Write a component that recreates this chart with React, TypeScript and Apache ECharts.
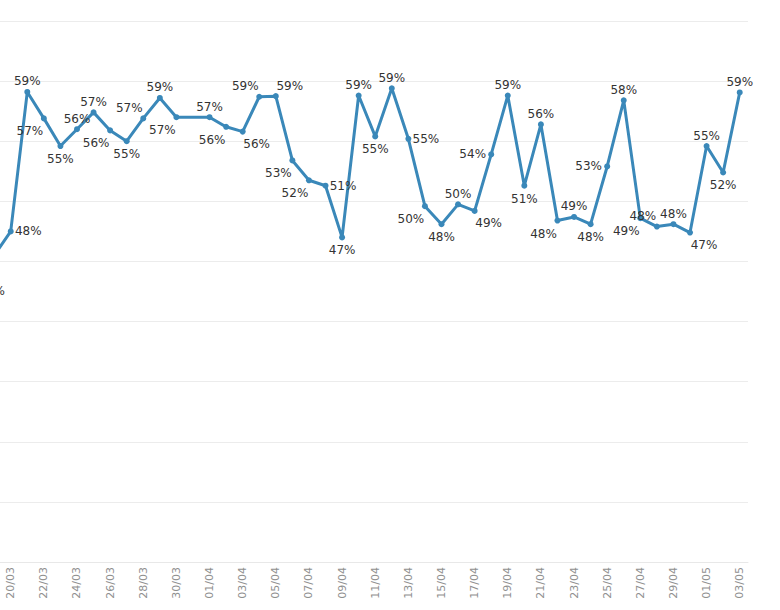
import React, { useEffect, useRef } from 'react';
import * as echarts from 'echarts';

// daily dates, 18/03 .. 03/05 (the chart is cropped on the left)
const dates = [
  '18/03', '19/03', '20/03', '21/03', '22/03', '23/03', '24/03', '25/03', '26/03', '27/03',
  '28/03', '29/03', '30/03', '31/03', '01/04', '02/04', '03/04', '04/04', '05/04', '06/04',
  '07/04', '08/04', '09/04', '10/04', '11/04', '12/04', '13/04', '14/04', '15/04', '16/04',
  '17/04', '18/04', '19/04', '20/04', '21/04', '22/04', '23/04', '24/04', '25/04', '26/04',
  '27/04', '28/04', '29/04', '30/04', '01/05', '02/05', '03/05',
];

// share in %, null = no value that day
const shares: (number | null)[] = [
  43.5, null, 47.5, 59.1, 56.9, 54.6, 56.0, 57.4, 55.9, 55.0,
  56.9, 58.6, 57.0, null, 57.0, 56.2, 55.8, 58.7, 58.75, 53.4,
  51.75, 51.3, 47.0, 58.8, 55.4, 59.4, 55.2, 49.6, 48.1, 49.75,
  49.2, 53.9, 58.8, 51.3, 56.4, 48.4, 48.7, 48.1, 52.9, 58.4,
  48.6, 47.9, 48.1, 47.4, 54.6, 52.4, 59.06,
];

// where each value label sits around its point
const labelSide = [
  'br', '', 'r', 't', 'bl', 'b', 't', 't', 'bl', 'b',
  'tl', 't', 'bl', '', 't', 'bl', 'br', 'tl', 'tr', 'bl',
  'bl', 'r', 'b', 't', 'b', 't', 'r', 'bl', 'b', 't',
  'br', 'l', 't', 'b', 't', 'bl', 't', 'b', 'l', 't',
  'bl', 'tl', 't', 'br', 't', 'b', 't',
];

const sideOffset: Record<string, number[]> = {
  t: [0, -10.5],
  b: [0, 13],
  l: [-18.5, 0],
  r: [17.5, 0],
  tl: [-14, -10.5],
  tr: [14, -10],
  bl: [-14, 13],
  br: [14, 12],
};

const FONT = 'DejaVu Sans';

const App: React.FC = () => {
  const chartRef = useRef<HTMLDivElement | null>(null);

  useEffect(() => {
    if (!chartRef.current) return;
    const chart = echarts.init(chartRef.current, undefined, { renderer: 'svg' });

    const data = shares.map((v, i) => ({
      value: v,
      label: {
        offset: sideOffset[labelSide[i]] || [0, -10.5],
      },
    }));

    chart.setOption({
      animation: false,
      // the container starts 31px left of the page, so the plot is cut off there
      grid: { left: 0.3, right: 32, top: 21, bottom: 48, containLabel: false },
      xAxis: {
        type: 'category',
        data: dates,
        boundaryGap: true,
        axisLine: { lineStyle: { color: '#e8e8e8', width: 1 } },
        axisTick: { show: false },
        axisLabel: {
          rotate: 90,
          interval: 1,
          color: '#909090',
          fontSize: 11,
          fontFamily: FONT,
          margin: 5,
        },
        splitLine: { show: false },
      },
      yAxis: {
        type: 'value',
        min: 20,
        max: 65,
        interval: 5,
        axisLine: { show: false },
        axisTick: { show: false },
        axisLabel: { show: false },
        splitLine: { lineStyle: { color: '#ececec', width: 1 } },
      },
      series: [
        {
          type: 'line',
          data,
          connectNulls: true,
          symbol: 'circle',
          symbolSize: 6,
          itemStyle: { color: '#3a88b9' },
          lineStyle: { color: '#3a88b9', width: 3 },
          label: {
            show: true,
            position: 'inside',
            align: 'center',
            verticalAlign: 'middle',
            color: '#333333',
            fontSize: 12,
            fontFamily: FONT,
            formatter: (p: any) => Math.round(p.value) + '%',
          },
        },
      ],
    });

    return () => {
      chart.dispose();
    };
  }, []);

  return (
    <div
      ref={chartRef}
      style={{ position: 'fixed', left: '-31px', top: 0, width: '811px', height: '610px', background: '#fff' }}
    />
  );
};

export default App;
